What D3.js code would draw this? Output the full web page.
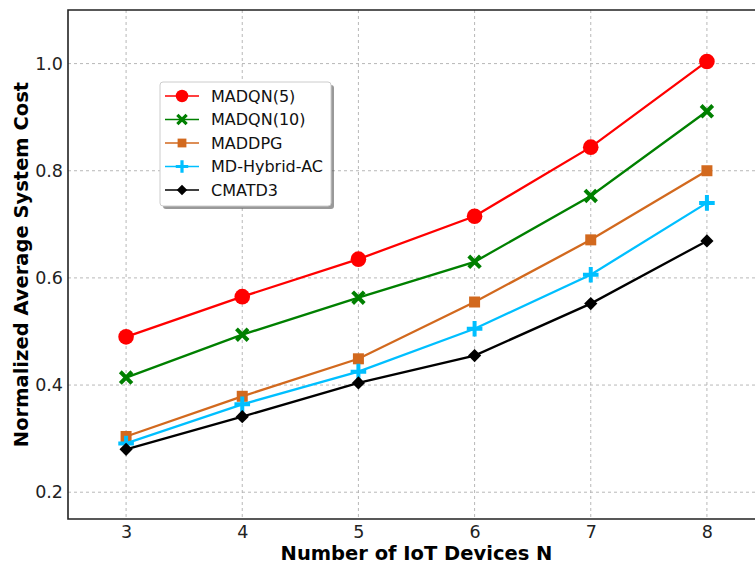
<!DOCTYPE html>
<html>
<head>
<meta charset="utf-8">
<script src="https://cdn.jsdelivr.net/npm/d3@7"></script>
<style>
  body { margin: 0; background: #fff; }
  svg { display: block; font-family: 'DejaVu Sans', sans-serif; }
</style>
</head>
<body>
<svg id="chart" width="755" height="566"></svg>
<script>
const devices = [3, 4, 5, 6, 7, 8]
const madqn5 = [0.490, 0.565, 0.635, 0.715, 0.844, 1.004]
const madqn10 = [0.414, 0.494, 0.563, 0.630, 0.753, 0.911]
const maddpg = [0.304, 0.379, 0.449, 0.555, 0.671, 0.800]
const hybridAC = [0.291, 0.364, 0.425, 0.505, 0.606, 0.740]
const cmatd3 = [0.280, 0.341, 0.404, 0.455, 0.552, 0.669]
const yTicks = [0.2, 0.4, 0.6, 0.8, 1.0]

const series = [
  { name: 'MADQN(5)', values: madqn5, color: '#ff0000', marker: 'circle' },
  { name: 'MADQN(10)', values: madqn10, color: '#008000', marker: 'x' },
  { name: 'MADDPG', values: maddpg, color: '#d2691e', marker: 'square' },
  { name: 'MD-Hybrid-AC', values: hybridAC, color: '#00bfff', marker: 'plus' },
  { name: 'CMATD3', values: cmatd3, color: '#000000', marker: 'diamond' },
]

const margin = { top: 10, right: -10, bottom: 47, left: 68 }
const width = 755
const height = 566
const innerW = width - margin.left - margin.right
const innerH = height - margin.top - margin.bottom

const x = d3.scaleLinear().domain([2.5, 8.5]).range([0, innerW])
const y = d3.scaleLinear().domain([0.15, 1.1]).range([innerH, 0])

const svgRoot = d3.select('#chart')
const svg = svgRoot.append('g')
  .attr('transform', `translate(${margin.left},${margin.top})`)

// grid
const grid = svg.append('g').attr('id', 'grid')
grid.selectAll('line.gx')
  .data(devices)
  .join('line')
  .attr('class', 'gx')
  .attr('x1', d => x(d)).attr('x2', d => x(d))
  .attr('y1', 0).attr('y2', innerH)
  .attr('stroke', '#b0b0b0').attr('stroke-width', 0.9)
  .attr('stroke-dasharray', '3,3')

grid.selectAll('line.gy')
  .data(yTicks)
  .join('line')
  .attr('class', 'gy')
  .attr('x1', 0).attr('x2', innerW)
  .attr('y1', d => y(d)).attr('y2', d => y(d))
  .attr('stroke', '#b0b0b0').attr('stroke-width', 0.9)
  .attr('stroke-dasharray', '3,3')

// axes
const xAxis = svg.append('g')
  .attr('transform', `translate(0,${innerH})`)
  .call(d3.axisBottom(x).tickValues(devices).tickFormat(d3.format('d')).tickSize(0).tickPadding(7))
const yAxis = svg.append('g')
  .call(d3.axisLeft(y).tickValues(yTicks).tickFormat(d3.format('.1f')).tickSize(0).tickPadding(5))

;[xAxis, yAxis].forEach(a => {
  a.select('.domain').remove()
  a.selectAll('text')
    .attr('font-family', 'DejaVu Sans, sans-serif')
    .attr('font-size', 17.5)
    .attr('fill', '#222')
})

// frame
svg.append('path')
  .attr('d', `M${innerW},0H0V${innerH}H${innerW}`)
  .attr('fill', 'none')
  .attr('stroke', '#222')
  .attr('stroke-width', 1.6)

// marker drawing
function drawMarker(sel, type, color) {
  if (type === 'circle') {
    sel.append('circle').attr('r', 7.8).attr('fill', color)
  } else if (type === 'square') {
    sel.append('rect').attr('x', -5.5).attr('y', -5.5).attr('width', 11).attr('height', 11).attr('fill', color)
  } else if (type === 'diamond') {
    sel.append('path').attr('d', 'M0,-6.6L6.6,0L0,6.6L-6.6,0Z').attr('fill', color)
  } else if (type === 'x') {
    sel.append('path').attr('d', 'M-5.8,-5.8L5.8,5.8M-5.8,5.8L5.8,-5.8')
      .attr('stroke', color).attr('stroke-width', 4).attr('fill', 'none')
  } else if (type === 'plus') {
    sel.append('path').attr('d', 'M-7.8,0H7.8M0,-7.8V7.8')
      .attr('stroke', color).attr('stroke-width', 4).attr('fill', 'none')
  }
}

const line = d3.line().x((d, i) => x(devices[i])).y(d => y(d))

const plot = svg.append('g').attr('id', 'series')
series.forEach(s => {
  const g = plot.append('g')
  g.append('path')
    .attr('d', line(s.values))
    .attr('fill', 'none')
    .attr('stroke', s.color)
    .attr('stroke-width', 2.3)
  g.selectAll('g.m')
    .data(s.values)
    .join('g')
    .attr('class', 'm')
    .attr('transform', (d, i) => `translate(${x(devices[i])},${y(d)})`)
    .each(function () { drawMarker(d3.select(this), s.marker, s.color) })
})

// axis labels
svgRoot.append('text')
  .attr('x', margin.left + x(5.5))
  .attr('y', 560)
  .attr('text-anchor', 'middle')
  .attr('font-weight', 'bold')
  .attr('font-size', 19.5)
  .text('Number of IoT Devices N')

svgRoot.append('text')
  .attr('transform', `translate(28,${margin.top + innerH / 2}) rotate(-90)`)
  .attr('text-anchor', 'middle')
  .attr('font-weight', 'bold')
  .attr('font-size', 19.5)
  .text('Normalized Average System Cost')

// legend
const legend = svgRoot.append('g').attr('transform', 'translate(160,82)')
legend.append('rect')
  .attr('x', 3).attr('y', 3).attr('width', 171).attr('height', 124).attr('rx', 3)
  .attr('fill', '#555').attr('opacity', 0.6)
legend.append('rect')
  .attr('width', 171).attr('height', 124).attr('rx', 3)
  .attr('fill', '#fff').attr('stroke', '#ccc').attr('stroke-width', 1)

const items = legend.selectAll('g.item')
  .data(series)
  .join('g')
  .attr('class', 'item')
  .attr('transform', (d, i) => `translate(0,${14 + i * 23.5})`)
items.append('line')
  .attr('x1', 5).attr('x2', 39)
  .attr('stroke', d => d.color).attr('stroke-width', 1.5)
items.each(function (d) {
  const m = d3.select(this).append('g').attr('transform', 'translate(22,0) scale(0.8)')
  drawMarker(m, d.marker, d.color)
})
items.append('text')
  .attr('x', 51).attr('dy', '0.36em')
  .attr('font-size', 16)
  .attr('fill', '#111')
  .text(d => d.name)
</script>
</body>
</html>
